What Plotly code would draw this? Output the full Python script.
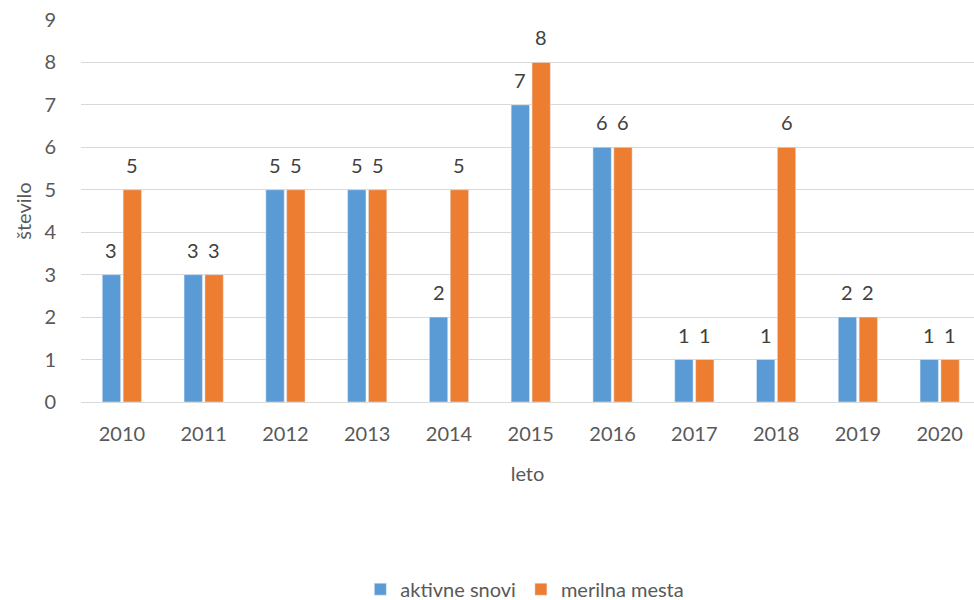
import plotly.graph_objects as go

years = ["2010", "2011", "2012", "2013", "2014", "2015", "2016", "2017", "2018", "2019", "2020"]
aktivne_snovi = [3, 3, 5, 5, 2, 7, 6, 1, 1, 2, 1]
merilna_mesta = [5, 3, 5, 5, 5, 8, 6, 1, 6, 2, 1]
y_ticks = [0, 1, 2, 3, 4, 5, 6, 7, 8, 9]

FONT = "Lato"
fig = go.Figure()
fig.add_trace(go.Bar(x=years, y=aktivne_snovi, name="aktivne snovi", marker_color="#5B9BD5"))
fig.add_trace(go.Bar(x=years, y=merilna_mesta, name="merilna mesta", marker_color="#ED7D31"))

# annotations on a category axis use the category serial number
for series, dx in ((aktivne_snovi, -10.4), (merilna_mesta, 10.4)):
    for i, v in enumerate(series):
        fig.add_annotation(x=i, y=v, xref="x", yref="y", text=str(v), showarrow=False,
                           xshift=dx, yshift=25, xanchor="center", yanchor="middle",
                           font=dict(family=FONT, size=20, color="#404040"))

fig.update_layout(
    width=974, height=600,
    margin=dict(l=81, r=0, t=20, b=198, autoexpand=False),
    paper_bgcolor="white", plot_bgcolor="white",
    font=dict(family=FONT, size=20, color="#595959"),
    barmode="group", bargap=0.49, bargroupgap=0.12,
    showlegend=True,
    legend=dict(orientation="h", x=0.497, xanchor="center", y=-0.49, yanchor="middle",
                itemwidth=30, font=dict(size=20, color="#595959"), traceorder="normal"),
    xaxis=dict(type="category", range=[-0.5, 10.42], showgrid=False, showline=False,
               ticks="", automargin=False, ticklabelstandoff=18,
               title=dict(text="leto", standoff=22, font=dict(size=20, color="#595959"))),
    yaxis=dict(range=[0, 9], tickvals=y_ticks, showgrid=True, gridcolor="#D9D9D9", gridwidth=1.3,
               zeroline=True, zerolinecolor="#D9D9D9", zerolinewidth=1.3, showline=False,
               ticks="", ticklabelstandoff=24, automargin=False,
               title=dict(text="število", standoff=7, font=dict(size=20, color="#595959"))),
)
fig.write_html("out.html", config={"displayModeBar": False},
               post_script="document.body.style.margin='0';")
